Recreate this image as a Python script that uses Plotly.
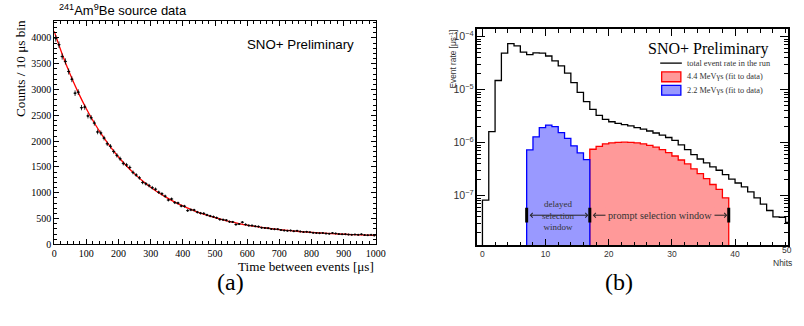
import plotly.graph_objects as go

# ---------------- Panel (a): 241AmBe coincidence time ----------------
time_us = [5, 15, 25, 35, 45, 55, 65, 75, 85, 95,
           105, 115, 125, 135, 145, 155, 165, 175, 185, 195,
           205, 215, 225, 235, 245, 255, 265, 275, 285, 295,
           305, 315, 325, 335, 345, 355, 365, 375, 385, 395,
           405, 415, 425, 435, 445, 455, 465, 475, 485, 495,
           505, 515, 525, 535, 545, 555, 565, 575, 585, 595,
           605, 615, 625, 635, 645, 655, 665, 675, 685, 695,
           705, 715, 725, 735, 745, 755, 765, 775, 785, 795,
           805, 815, 825, 835, 845, 855, 865, 875, 885, 895,
           905, 915, 925, 935, 945, 955, 965, 975, 985, 995]
counts = [3990, 3870, 3640, 3545, 3350, 3200, 2930, 2950, 2650, 2660,
          2490, 2455, 2350, 2180, 2160, 2060, 1950, 1900, 1800, 1725,
          1660, 1570, 1540, 1490, 1395, 1345, 1290, 1200, 1175, 1140,
          1100, 1070, 1010, 980, 935, 860, 880, 810, 800, 745,
          740, 655, 670, 665, 625, 605, 600, 570, 550, 535,
          515, 485, 480, 470, 440, 435, 385, 395, 430, 385,
          365, 365, 350, 345, 325, 320, 315, 300, 295, 295,
          280, 270, 265, 270, 255, 265, 250, 240, 245, 235,
          225, 222, 218, 222, 210, 208, 220, 212, 200, 195,
          198, 190, 188, 192, 185, 195, 180, 178, 185, 172]
fit_time_us = [0, 25, 50, 75, 100, 125, 150, 175, 200, 225, 250, 275, 300, 325,
               350, 375, 400, 425, 450, 475, 500, 525, 550, 575, 600, 625, 650,
               675, 700, 725, 750, 775, 800, 825, 850, 875, 900, 925, 950, 975, 1000]
fit_counts = [4130, 3686, 3292, 2941, 2629, 2352, 2106, 1888, 1693, 1520, 1367,
              1230, 1109, 1001, 906, 820, 745, 677, 618, 565, 517, 475, 438, 405,
              375, 349, 326, 305, 287, 271, 256, 243, 232, 222, 212, 204, 197, 191,
              185, 180, 176]

# ---------------- Panel (b): Nhits spectra ----------------
total_bin_lo = [0, 1, 2, 3, 4, 5, 6, 7, 8, 9, 10, 11, 12, 13, 14, 15, 16, 17, 18, 19,
                20, 21, 22, 23, 24, 25, 26, 27, 28, 29, 30, 31, 32, 33, 34, 35, 36, 37,
                38, 39, 40, 41, 42, 43, 44, 45, 46, 47, 48]
total_rate = [8.2e-8, 1.62e-6, 1.49e-5, 4.91e-5, 7.42e-5, 6.70e-5, 5.12e-5, 4.60e-5,
              4.95e-5, 4.91e-5, 4.32e-5, 3.49e-5, 2.82e-5, 2.05e-5, 1.36e-5, 8.91e-6,
              5.94e-6, 4.23e-6, 3.27e-6, 2.76e-6, 2.48e-6, 2.31e-6, 2.18e-6, 2.07e-6,
              1.92e-6, 1.80e-6, 1.66e-6, 1.52e-6, 1.39e-6, 1.25e-6, 1.10e-6, 9.1e-7,
              7.36e-7, 5.94e-7, 4.91e-7, 4.14e-7, 3.49e-7, 3.01e-7, 2.48e-7, 2.05e-7,
              1.73e-7, 1.46e-7, 1.18e-7, 9.1e-8, 6.9e-8, 5.23e-8, 3.96e-8, 3.9e-8, 3.13e-8]
delayed_bin_lo = [7, 8, 9, 10, 11, 12, 13, 14, 15, 16]
delayed_rate = [7.3e-7, 1.29e-6, 1.92e-6, 2.15e-6, 2.0e-6, 1.55e-6, 1.2e-6, 8.7e-7,
                6.4e-7, 4.76e-7]
prompt_bin_lo = [17, 18, 19, 20, 21, 22, 23, 24, 25, 26, 27, 28, 29, 30, 31, 32, 33,
                 34, 35, 36, 37, 38]
prompt_rate = [7.5e-7, 8.5e-7, 9.5e-7, 9.9e-7, 1.01e-6, 1.02e-6, 1.01e-6, 9.9e-7,
               9.5e-7, 8.9e-7, 8.2e-7, 7.4e-7, 6.5e-7, 5.6e-7, 4.7e-7, 3.96e-7,
               3.2e-7, 2.59e-7, 2.09e-7, 1.62e-7, 1.31e-7, 9.1e-8]
delayed_window = [7, 17]
prompt_window = [17, 39]
legend_labels = ["total event rate in the run", "4.4 MeVγs (fit to data)",
                 "2.2 MeVγs (fit to data)"]

W, H = 804, 326
SERIF = "Liberation Serif"
SANS = "Liberation Sans"
FLOOR = 1e-9  # below the visible log range, so fills reach the frame bottom
RED, RED_FILL = "#ff0000", "#ff9999"
BLUE, BLUE_FILL = "#0000ff", "#9999ff"


def step_xy(lo, vals):
    xs = [lo[0]] + list(lo) + [lo[-1] + 1]
    ys = [FLOOR] + list(vals) + [FLOOR]
    return xs, ys


def px(x):
    return x / W


def py(y):
    return 1 - y / H


fig = go.Figure()

# panel (a)
fig.add_trace(go.Scatter(
    x=fit_time_us, y=fit_counts, mode="lines", line=dict(color=RED, width=1.3, shape="spline"),
    xaxis="x", yaxis="y", showlegend=False, hoverinfo="skip"))
fig.add_trace(go.Scatter(
    x=time_us, y=counts, mode="markers", marker=dict(color="black", size=2),
    error_y=dict(type="sqrt", color="black", thickness=0.8, width=0),
    error_x=dict(type="constant", value=5, color="black", thickness=0.8, width=0),
    xaxis="x", yaxis="y", showlegend=False))

# panel (b)
xs, ys = step_xy(prompt_bin_lo, prompt_rate)
fig.add_trace(go.Scatter(
    x=xs, y=ys, mode="lines", line=dict(color=RED, width=1.3, shape="hv"),
    fill="toself", fillcolor=RED_FILL, name=legend_labels[1],
    xaxis="x2", yaxis="y2", showlegend=False))
xs, ys = step_xy(delayed_bin_lo, delayed_rate)
fig.add_trace(go.Scatter(
    x=xs, y=ys, mode="lines", line=dict(color=BLUE, width=1.3, shape="hv"),
    fill="toself", fillcolor=BLUE_FILL, name=legend_labels[2],
    xaxis="x2", yaxis="y2", showlegend=False))
xs, ys = step_xy(total_bin_lo, total_rate)
fig.add_trace(go.Scatter(
    x=xs, y=ys, mode="lines", line=dict(color="black", width=1.3, shape="hv"),
    name=legend_labels[0], xaxis="x2", yaxis="y2", showlegend=False))

# selection window markers (thick bars)
bar_lo, bar_hi = 3.1e-8, 5.9e-8
bx, by = [], []
for v in [delayed_window[0], delayed_window[1], prompt_window[1]]:
    bx += [v, v, None]
    by += [bar_lo, bar_hi, None]
fig.add_trace(go.Scatter(x=bx, y=by, mode="lines", line=dict(color="black", width=3),
                         xaxis="x2", yaxis="y2", showlegend=False, hoverinfo="skip"))

axis_a = dict(showline=True, linecolor="black", linewidth=1, mirror="allticks",
              ticks="inside", tickcolor="black", showgrid=False, zeroline=False,
              tickfont=dict(family=SERIF, size=10, color="black"))
fig.update_layout(
    xaxis=dict(domain=[px(52), px(379)], range=[0, 1000], dtick=100, ticklen=5,
               minor=dict(dtick=20, ticks="inside", ticklen=3, tickcolor="black"),
               anchor="y", **axis_a),
    yaxis=dict(domain=[py(249), py(21)], range=[0, 4336], dtick=500, ticklen=5,
               tickformat="d",
               minor=dict(dtick=100, ticks="inside", ticklen=3, tickcolor="black"),
               anchor="x", **axis_a),
)

axis_b = dict(showline=True, linecolor="black", linewidth=1.5, mirror="allticks",
              ticks="inside", tickcolor="black", showgrid=False, zeroline=False,
              tickfont=dict(family=SANS, size=8.5, color="#333"))
fig.update_layout(
    xaxis2=dict(domain=[px(482), px(798)], range=[-0.83, 48.4], dtick=10, ticklen=7,
                minor=dict(dtick=2, ticks="inside", ticklen=4, tickcolor="black"),
                anchor="y2", **axis_b),
    yaxis2=dict(domain=[py(250), py(29.3)], type="log", range=[-7.94, -3.85], dtick=1,
                exponentformat="power", ticklen=8,
                minor=dict(dtick="D1", ticks="inside", ticklen=4, tickcolor="black"),
                anchor="x2", **axis_b),
)

ann = []
# panel (a) texts
ann.append(dict(text="<sup>241</sup>Am<sup>9</sup>Be source data", x=px(55), y=py(10),
                xref="paper", yref="paper", xanchor="left", yanchor="middle", showarrow=False,
                font=dict(family=SANS, size=13, color="black")))
ann.append(dict(text="SNO+ Preliminary", x=px(359), y=py(45), xref="paper", yref="paper",
                xanchor="right", yanchor="middle", showarrow=False,
                font=dict(family=SANS, size=13.3, color="black")))
ann.append(dict(text="Time between events [μs]", x=px(379), y=py(271), xref="paper",
                yref="paper", xanchor="right", yanchor="middle", showarrow=False,
                font=dict(family=SERIF, size=13.2, color="black")))
ann.append(dict(text="Counts / 10 μs bin", x=px(18), y=py(69.5), xref="paper", yref="paper",
                textangle=-90, xanchor="center", yanchor="middle", showarrow=False,
                font=dict(family=SERIF, size=13.2, color="black")))
# panel (b) texts
ann.append(dict(text="SNO+ Preliminary", x=px(781), y=py(50), xref="paper", yref="paper",
                xanchor="right", yanchor="middle", showarrow=False,
                font=dict(family=SERIF, size=16, color="black")))
ann.append(dict(text="Event rate [μs<sup>-1</sup>]", x=px(457), y=py(60), xref="paper",
                yref="paper", textangle=-90, xanchor="center", yanchor="middle",
                showarrow=False, font=dict(family=SANS, size=8.3, color="#333")))
ann.append(dict(text="Nhits", x=px(804), y=py(268), xref="paper", yref="paper",
                xanchor="right", yanchor="middle", showarrow=False,
                font=dict(family=SANS, size=8.5, color="#333")))
ann.append(dict(text="50", x=px(804), y=py(255), xref="paper", yref="paper",
                xanchor="right", yanchor="middle", showarrow=False,
                font=dict(family=SANS, size=8.5, color="#333")))
# selection window arrows
arrow_y = -7.37
for win in (delayed_window, prompt_window):
    ann.append(dict(text="", x=win[1], y=arrow_y, ax=win[0], ay=arrow_y,
                    xref="x2", yref="y2", axref="x2", ayref="y2", showarrow=True,
                    arrowhead=4, startarrowhead=4, arrowside="end+start", arrowsize=0.9,
                    startarrowsize=0.9, arrowwidth=1, arrowcolor="#222", standoff=1.5,
                    startstandoff=1.5))
ann.append(dict(text="delayed<br>selection<br>window", x=12, y=arrow_y, xref="x2", yref="y2",
                showarrow=False, xanchor="center", yanchor="middle",
                font=dict(family=SERIF, size=9, color="#333")))
ann.append(dict(text="prompt selection window", x=28.1, y=arrow_y, xref="x2", yref="y2",
                showarrow=False, xanchor="center", yanchor="middle", bgcolor=RED_FILL,
                borderpad=2, font=dict(family=SERIF, size=10.2, color="#333")))
# legend (drawn by hand to match the compact ROOT legend)
leg_y = [64.3, 78.3, 92]
for lbl, yy in zip(legend_labels, leg_y):
    ann.append(dict(text=lbl, x=px(693), y=py(yy), xref="paper", yref="paper",
                    xanchor="left", yanchor="middle", showarrow=False,
                    font=dict(family=SERIF, size=8.3, color="#333")))
shapes = [
    dict(type="line", xref="paper", yref="paper", x0=px(668), x1=px(690),
         y0=py(leg_y[0]), y1=py(leg_y[0]), line=dict(color="black", width=1.3)),
    dict(type="rect", xref="paper", yref="paper", x0=px(669.5), x1=px(689),
         y0=py(leg_y[1] - 5), y1=py(leg_y[1] + 5), fillcolor=RED_FILL,
         line=dict(color=RED, width=1.3)),
    dict(type="rect", xref="paper", yref="paper", x0=px(669.5), x1=px(689),
         y0=py(leg_y[2] - 5), y1=py(leg_y[2] + 5), fillcolor=BLUE_FILL,
         line=dict(color=BLUE, width=1.3)),
]
# captions
ann.append(dict(text="(a)", x=px(215), y=py(303), xref="paper", yref="paper",
                showarrow=False, font=dict(family=SERIF, size=24, color="black")))
ann.append(dict(text="(b)", x=px(642), y=py(303), xref="paper", yref="paper",
                showarrow=False, font=dict(family=SERIF, size=24, color="black")))

fig.update_layout(
    width=W, height=H, margin=dict(l=0, r=0, t=0, b=0),
    paper_bgcolor="white", plot_bgcolor="white",
    annotations=ann, shapes=shapes, showlegend=False,
)

fig.write_html("out.html")
